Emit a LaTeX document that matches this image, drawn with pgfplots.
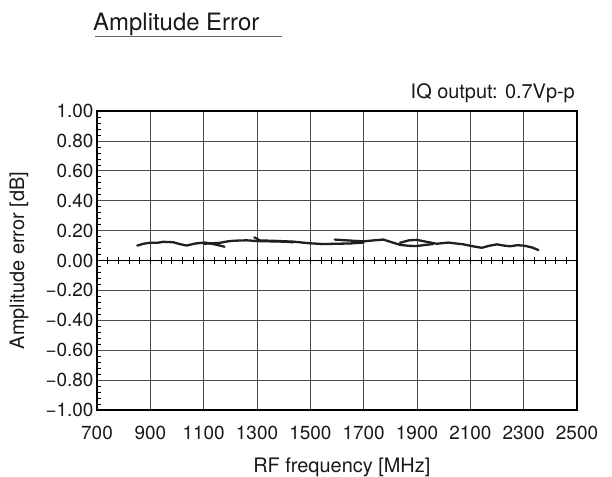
\documentclass[border=0pt]{standalone}
\usepackage{pgfplots}
\pgfplotsset{compat=1.18}
\usepackage{fontspec}
\setmainfont{TeX Gyre Heros}
\tikzset{curve/.style={draw=black!88, line width=2.3pt, line join=round, line cap=round, mark=none}}
\begin{document}
\begin{tikzpicture}[x=1bp,y=1bp]
\useasboundingbox (-97,-67) rectangle (515,410);
\begin{axis}[
  at={(0,0)}, anchor=south west,
  scale only axis, width=480bp, height=299bp,
  xmin=700, xmax=2500, ymin=-1, ymax=1,
  xtick={700,900,...,2500},
  xticklabels={700,900,1100,1300,1500,1700,1900,2100,2300,2500},
  ytick={-1,-0.8,...,1.01},
  yticklabels={−1.00,−0.80,−0.60,−0.40,−0.20,0.00,0.20,0.40,0.60,0.80,1.00},
  minor y tick num=4,
  major x tick style={draw=none},
  y tick style={black, line width=0.6pt},
  major tick length=0bp,
  minor tick length=4bp,
  tick align=inside,
  ytick pos=left,
  grid=major,
  major grid style={draw=black!70, line width=0.6pt},
  axis line style={black, line width=1.6pt},
  tick label style={font=\fontsize{19}{19}\selectfont, text=black!90},
  xticklabel style={anchor=base, yshift=-30bp},
  xlabel={RF frequency [MHz]},
  ylabel={Amplitude error [dB]},
  label style={font=\fontsize{20}{20}\selectfont, text=black!90},
  xlabel style={at={(axis description cs:0.51,0)}, anchor=base, yshift=-62bp},
  ylabel style={at={(axis description cs:-0.1625,0.5)}, anchor=center},
  clip=false,
]
\draw[black, line width=1.4pt] (axis cs:700,0) -- (axis cs:2500,0);
\pgfplotsinvokeforeach{740,780,...,2460}{
  \draw[black, line width=0.6pt] (axis cs:#1,-0.022) -- (axis cs:#1,0.022);
}
% band segments
\addplot[curve] coordinates {(851,0.100) (875,0.112) (899,0.119) (925,0.118) (949,0.125) (986,0.122) (1010,0.110) (1036,0.100) (1060,0.110) (1074,0.115) (1105,0.120) (1130,0.112) (1149,0.105) (1178,0.092)};
\addplot[curve] coordinates {(1100,0.112) (1130,0.115) (1160,0.118) (1190,0.128) (1211,0.132) (1261,0.135) (1299,0.130) (1350,0.128) (1400,0.126) (1436,0.122)};
\addplot[curve] coordinates {(1290,0.155) (1311,0.134) (1360,0.132) (1436,0.126) (1499,0.115) (1549,0.110) (1600,0.112) (1650,0.114) (1699,0.120)};
\addplot[curve] coordinates {(1592,0.140) (1624,0.136) (1699,0.128) (1740,0.135) (1774,0.140) (1800,0.125) (1836,0.105) (1870,0.098) (1899,0.097) (1936,0.105) (1960,0.110)};
\addplot[curve] coordinates {(1836,0.118) (1870,0.135) (1899,0.138) (1936,0.125) (1974,0.112) (2017,0.120) (2074,0.108) (2110,0.095) (2143,0.085) (2170,0.098) (2199,0.108) (2225,0.100) (2249,0.095) (2275,0.102) (2299,0.100) (2330,0.088) (2355,0.070)};
\end{axis}
\node[anchor=base west, inner sep=0pt, font=\fontsize{24}{24}\selectfont, text=black!90] at (-4,379) {Amplitude Error};
\draw[black!60, line width=1pt] (-2,373) -- (185,373);
\node[anchor=base east, inner sep=0pt, font=\fontsize{20}{20}\selectfont, text=black!90] at (478,311) {IQ output: 0.7Vp-p};
\end{tikzpicture}
\end{document}
